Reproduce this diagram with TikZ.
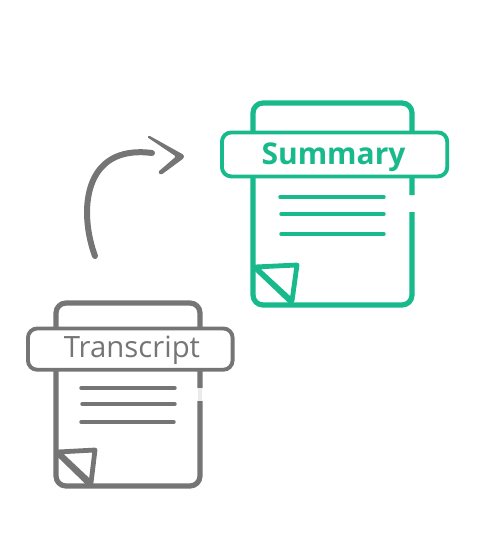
\documentclass[tikz,border=0pt]{standalone}
\usepackage{fontspec}
\setmainfont{Open Sans}
\definecolor{gr}{HTML}{18B98A}
\definecolor{gy}{HTML}{757575}
\tikzset{x=0.75pt,y=-0.75pt,
 wall/.style={line width=3.9pt,rounded corners=7.5pt,line join=round},
 banner/.style={draw,fill=white,line width=2.9pt,rounded corners=7pt,inner sep=0pt,anchor=north west},
 rule/.style={line width=2.6pt,line cap=round},
 fold/.style={line width=3.6pt,line join=round},
 label/.style={inner sep=0pt,anchor=base}}
\begin{document}
\begin{tikzpicture}
\useasboundingbox (0,0) rectangle (484,539);
% Summary
\begin{scope}[color=gr]
\draw[wall] (412,195) -- (412,103) -- (253,103) -- (253,305) -- (412,305) -- (412,212);
\draw[fold,fill=white] (255,267) -- (297,265) -- (292,301) -- cycle;
\draw[fold] (253,266) -- (292,303);
\node[banner,minimum width=169pt,minimum height=33pt] (sb) at (220,130.5) {};
\node[label,text=gr,font=\fontsize{22.5pt}{28pt}\selectfont\bfseries] (st) at (333.5,164) {Summary};
\foreach \yy/\xa/\xb in {197/280/384,214/281/384,234/281/384}
  \draw[rule] (\xa,\yy) -- (\xb,\yy);
\end{scope}
% Transcript
\begin{scope}[color=gy]
\draw[wall] (200,388) -- (200,303) -- (56,303) -- (56,486) -- (200,486) -- (200,401);
\draw[fold,fill=white] (58,452) -- (95,450) -- (91,483) -- cycle;
\draw[fold] (56,452) -- (91,486);
\node[banner,minimum width=153.5pt,minimum height=31pt] (tb) at (26,326.5) {};
\node[label,text=gy,font=\fontsize{22pt}{26pt}\selectfont] (tt) at (132,357) {Transcript};
\foreach \yy/\xa/\xb in {388/81/175,404/82/175,422/81/174}
  \draw[rule] (\xa,\yy) -- (\xb,\yy);
\end{scope}
\fill[gy!15] (198,388) rectangle (202,401);
% Arrow
\coordinate (as) at (95,256);
\coordinate (ae) at (152,153);
\draw[gy,line width=4.5pt,line cap=round] (as) .. controls (79,213) and (82,144) .. (ae);
\fill[gy,rounded corners=1pt] (147,137) -- (149,135.5) -- (184,155) -- (184,158) -- (161,175) -- (158,172) -- (176,156.5) -- cycle;
\end{tikzpicture}
\end{document}
